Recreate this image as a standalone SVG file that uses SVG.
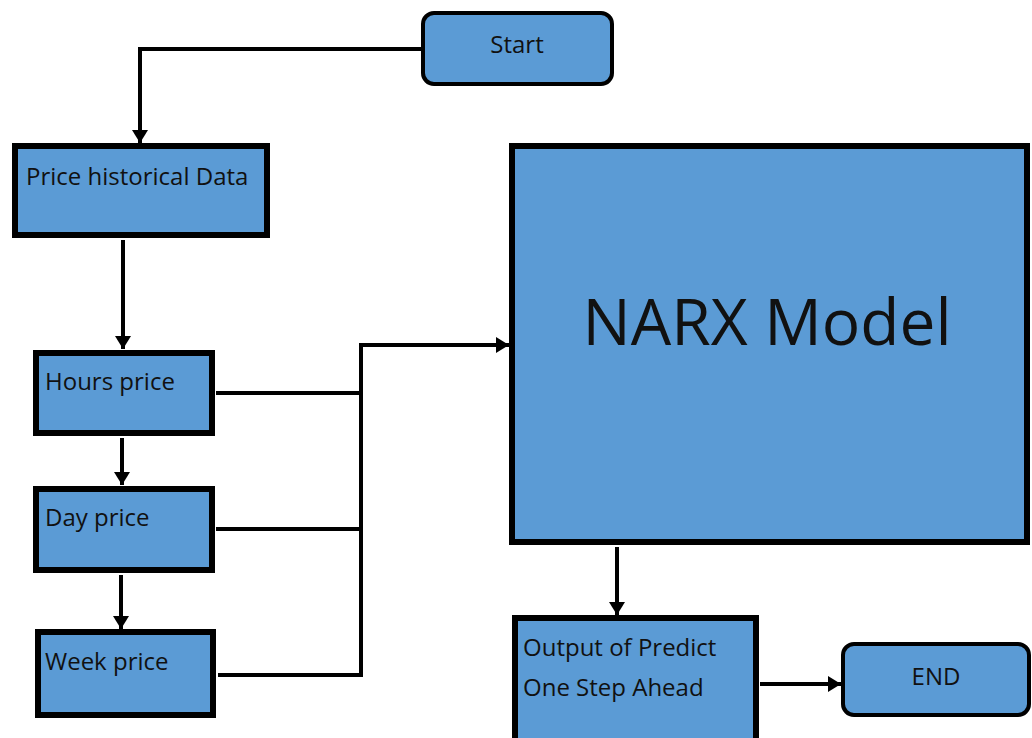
<svg xmlns="http://www.w3.org/2000/svg" width="1032" height="738" viewBox="0 0 1032 738">
<style>
.box{fill:#5B9BD5;stroke:#000;stroke-width:6}
.rbox{fill:#5B9BD5;stroke:#000;stroke-width:4}
.t{font-family:"Open Sans","Liberation Sans",sans-serif;font-size:24px;fill:#111}
.c{fill:none;stroke:#000;stroke-width:4}
</style>
<defs>
<marker id="ah" viewBox="0 0 13 16" refX="13" refY="8" markerWidth="13" markerHeight="16" orient="auto" markerUnits="userSpaceOnUse">
<path d="M0,0 L13,8 L0,16 z" fill="#000"/>
</marker>
</defs>
<rect width="1032" height="738" fill="#fff"/>
<g id="connectors">
<path class="c" d="M422,49 H140 V143" marker-end="url(#ah)"/>
<path class="c" d="M123,240 V349" marker-end="url(#ah)"/>
<path class="c" d="M122,438 V485" marker-end="url(#ah)"/>
<path class="c" d="M121,575 V629" marker-end="url(#ah)"/>
<path class="c" d="M216,393 H361"/>
<path class="c" d="M216,529 H361"/>
<path class="c" d="M218,675 H361 V345 H509" marker-end="url(#ah)"/>
<path class="c" d="M617,547 V615" marker-end="url(#ah)"/>
<path class="c" d="M760,684 H841" marker-end="url(#ah)"/>
</g>
<g id="start">
<rect class="rbox" x="423" y="13" width="189" height="71" rx="11"/>
<text class="t" x="517" y="53" text-anchor="middle">Start</text>
</g>
<g id="price-historical">
<rect class="box" x="15" y="146" width="252" height="89"/>
<text class="t" x="26" y="185">Price historical Data</text>
</g>
<g id="hours">
<rect class="box" x="36" y="353" width="176" height="80"/>
<text class="t" x="45" y="390">Hours price</text>
</g>
<g id="day">
<rect class="box" x="36" y="489" width="176" height="81"/>
<text class="t" x="45" y="526">Day price</text>
</g>
<g id="week">
<rect class="box" x="38" y="632" width="175" height="83"/>
<text class="t" x="45" y="670">Week price</text>
</g>
<g id="narx">
<rect class="box" x="512" y="146" width="515" height="396"/>
<text x="767" y="345" text-anchor="middle" font-family="'Open Sans','Liberation Sans',sans-serif" font-size="64" fill="#111">NARX Model</text>
</g>
<g id="output">
<rect class="box" x="515" y="618" width="241" height="130"/>
<text class="t" x="523" y="656">Output of Predict</text>
<text class="t" x="523" y="696">One Step Ahead</text>
</g>
<g id="end">
<rect class="rbox" x="843" y="644" width="186" height="71" rx="11"/>
<text class="t" x="936" y="685" text-anchor="middle">END</text>
</g>
</svg>
